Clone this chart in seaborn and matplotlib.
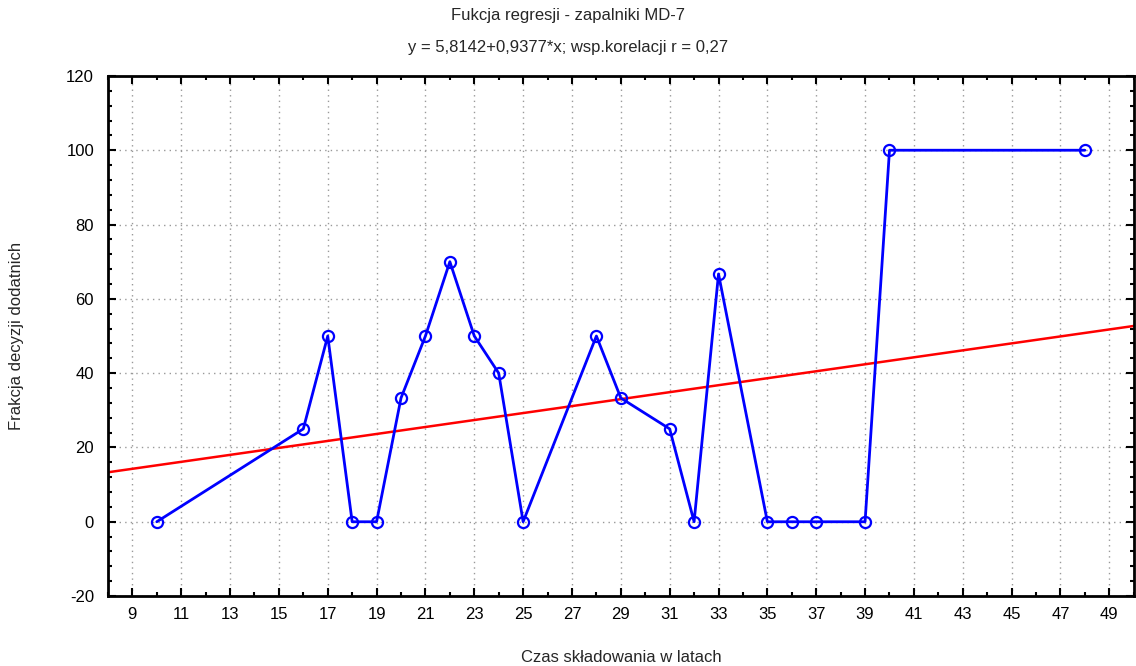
import numpy as np
import pandas as pd
import seaborn as sns
import matplotlib
matplotlib.use("Agg")
import matplotlib.pyplot as plt
from matplotlib.ticker import MultipleLocator

# Storage time (years) and share of positive decisions (%)
years = [10, 16, 17, 18, 19, 20, 21, 22, 23, 24, 25, 28, 29, 31, 32, 33, 35, 36, 37, 39, 40, 48]
fraction = [0, 25, 50, 0, 0, 33.3, 50, 70, 50, 40, 0, 50, 33.3, 25, 0, 66.7, 0, 0, 0, 0, 100, 100]

# Fitted regression coefficients
intercept = 5.8142
slope = 0.9377
corr_r = 0.27

title_line1 = "Fukcja regresji - zapalniki MD-7"
title_line2 = "y = 5,8142+0,9377*x; wsp.korelacji r = 0,27"
x_label = "Czas składowania w latach"
y_label = "Frakcja decyzji dodatnich"

sns.set_theme(style="white")
plt.rcParams["font.family"] = ["Liberation Sans", "DejaVu Sans"]
plt.rcParams["axes.unicode_minus"] = False

df = pd.DataFrame({"years": years, "fraction": fraction})

fig = plt.figure(figsize=(11.36, 6.66), dpi=100)
ax = fig.add_axes([0.095, 0.105, 0.903, 0.781])

sns.lineplot(data=df, x="years", y="fraction", ax=ax, color="#0000ff",
             linewidth=2, marker="o", markersize=8, markerfacecolor="none",
             markeredgecolor="#0000ff", markeredgewidth=1.6, zorder=3)
ax.axline((0, intercept), slope=slope, color="#ff0000", linewidth=1.8, zorder=2)

ax.set_xlim(8, 50)
ax.set_ylim(-20, 120)
ax.set_xticks(np.arange(9, 50, 2))
ax.xaxis.set_minor_locator(MultipleLocator(1))
ax.set_yticks(np.arange(-20, 121, 20))
ax.yaxis.set_minor_locator(MultipleLocator(4))

ax.grid(True, which="major", linestyle=(0, (1, 3)), color="#999999", linewidth=1)
ax.tick_params(which="both", direction="in", top=True, right=True, bottom=True, left=True,
               colors="black", labelsize=12, width=1.5)
ax.tick_params(which="major", length=6)
ax.tick_params(which="minor", length=3)
ax.tick_params(axis="y", which="both", labelright=False, pad=10)
ax.tick_params(axis="x", which="major", pad=8)

for side in ["left", "bottom", "top", "right"]:
    ax.spines[side].set_visible(True)
    ax.spines[side].set_color("black")
    ax.spines[side].set_linewidth(2)

ax.set_xlabel(x_label, fontsize=12, labelpad=20)
ax.set_ylabel(y_label, fontsize=12, labelpad=30)

fig.text(0.5, 0.977, title_line1, ha="center", va="center", fontsize=12)
fig.text(0.5, 0.929, title_line2, ha="center", va="center", fontsize=12)

fig.savefig("out.png", dpi=100)
